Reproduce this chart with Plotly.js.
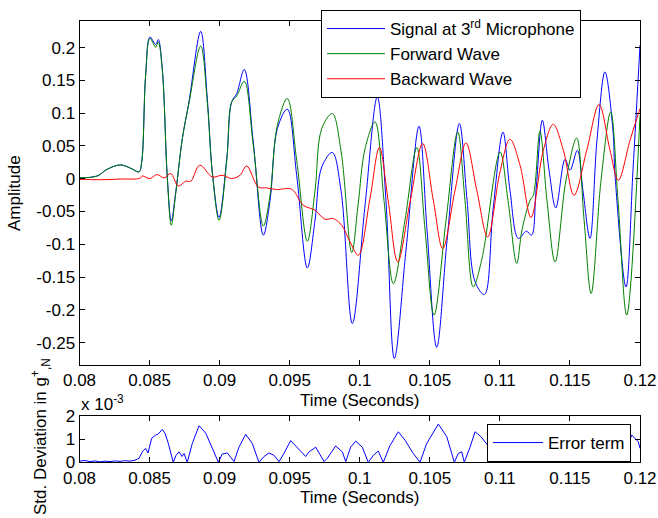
<!DOCTYPE html>
<html>
<head>
<meta charset="utf-8">
<script src="https://cdn.plot.ly/plotly-3.0.1.min.js"></script>
<style>html,body{margin:0;padding:0;background:#fff}#chart{width:658px;height:518px}</style>
</head>
<body>
<div id="chart"></div>
<script>
// ---- Main plot data (time in seconds, amplitude) ----
const signalTime = [0.08000,0.08127,0.08198,0.08294,0.08375,0.08425,0.08444,0.08472,0.08503,0.08544,0.08562,0.08591,0.08627,0.08655,0.08687,0.08734,0.08781,0.08865,0.08912,0.08948,0.08996,0.09051,0.09086,0.09122,0.09176,0.09240,0.09312,0.09360,0.09412,0.09483,0.09550,0.09626,0.09681,0.09729,0.09804,0.09866,0.09947,0.10038,0.10125,0.10187,0.10247,0.10330,0.10423,0.10480,0.10549,0.10623,0.10711,0.10766,0.10823,0.10890,0.10951,0.11022,0.11072,0.11132,0.11189,0.11226,0.11258,0.11303,0.11351,0.11399,0.11465,0.11501,0.11553,0.11593,0.11643,0.11693,0.11750,0.11807,0.11822,0.11900,0.11950,0.12000];
const signalAmp = [0.0012,0.0043,0.0145,0.021,0.015,0.0104,0.0256,0.158,0.216,0.2046,0.2122,0.168,0.0003,-0.0643,-0.020,0.0613,0.117,0.2248,0.1223,0.0104,-0.0591,0.0308,0.117,0.130,0.1665,0.056,-0.0861,-0.033,0.0765,0.106,0.005,-0.136,-0.063,0.018,0.040,-0.0175,-0.2207,-0.040,0.1247,-0.033,-0.274,-0.109,0.080,-0.078,-0.257,-0.094,0.0841,-0.033,-0.157,-0.1765,-0.048,0.0713,-0.0175,-0.091,-0.080,-0.086,-0.0175,0.0892,0.013,-0.0445,0.0297,0.013,0.0434,-0.018,-0.091,0.059,0.163,0.074,0.005,-0.165,0.013,0.2035];

const forwardTime = [0.08000,0.08127,0.08198,0.08294,0.08375,0.08425,0.08444,0.08472,0.08503,0.08544,0.08562,0.08591,0.08627,0.08655,0.08687,0.08734,0.08781,0.08865,0.08912,0.08948,0.08996,0.09051,0.09086,0.09122,0.09176,0.09240,0.09312,0.09360,0.09412,0.09483,0.09550,0.09626,0.09681,0.09729,0.09804,0.09866,0.09943,0.09988,0.10038,0.10109,0.10173,0.10240,0.10323,0.10407,0.10466,0.10530,0.10616,0.10699,0.10751,0.10810,0.10870,0.10894,0.11001,0.11058,0.11120,0.11158,0.11215,0.11239,0.11286,0.11336,0.11394,0.11472,0.11548,0.11601,0.11651,0.11722,0.11791,0.11843,0.11905,0.12000];
const forwardAmp = [0.0012,0.0043,0.0145,0.021,0.015,0.0104,0.0256,0.158,0.214,0.2005,0.2085,0.165,0.0003,-0.0709,-0.022,0.0613,0.115,0.2024,0.1166,0.0084,-0.0633,0.028,0.117,0.126,0.1486,0.051,-0.072,-0.025,0.0816,0.1223,0.028,-0.0953,-0.0175,0.0765,0.0994,0.043,-0.1125,-0.040,0.046,0.0866,-0.033,-0.160,-0.063,0.0476,-0.078,-0.208,-0.063,0.0713,-0.033,-0.165,-0.124,-0.0963,0.0409,-0.033,-0.129,-0.078,-0.033,-0.025,0.0724,-0.033,-0.127,-0.002,0.062,-0.063,-0.175,-0.002,0.1018,-0.033,-0.208,0.0968];

const backwardTime = [0.08000,0.08146,0.08289,0.08432,0.08448,0.08475,0.08503,0.08555,0.08603,0.08651,0.08705,0.08758,0.08794,0.08858,0.08948,0.09019,0.09086,0.09145,0.09193,0.09276,0.09336,0.09407,0.09514,0.09597,0.09681,0.09752,0.09811,0.09871,0.09931,0.09990,0.10073,0.10140,0.10204,0.10271,0.10359,0.10449,0.10525,0.10592,0.10680,0.10758,0.10835,0.10913,0.11001,0.11072,0.11144,0.11222,0.11310,0.11381,0.11453,0.11529,0.11620,0.11708,0.11786,0.11845,0.11929,0.12000];
const backwardAmp = [-0.0008,-0.0015,-0.0005,0.0008,0.0043,0.002,0.0003,0.0064,0.0012,0.0079,-0.011,-0.0038,-0.0038,0.0206,0.0027,0.0053,0.0003,0.0053,0.0195,-0.0125,-0.014,-0.0165,-0.016,-0.0404,-0.048,-0.0617,-0.0607,-0.0709,-0.0963,-0.1166,-0.030,0.0476,-0.0354,-0.1268,-0.0354,0.0537,-0.033,-0.1064,-0.0175,0.0546,-0.0175,-0.0887,0.0104,0.0602,0.0206,-0.0591,0.0434,0.0831,0.0434,-0.0252,0.0434,0.1131,0.0434,-0.0023,0.0587,0.107];

// ---- Lower plot data (std. deviation, units of 1e-3) ----
const errorTime = [0.08000,0.08039,0.08075,0.08111,0.08146,0.08182,0.08218,0.08253,0.08289,0.08325,0.08360,0.08396,0.08425,0.08448,0.08472,0.08489,0.08515,0.08544,0.08560,0.08575,0.08591,0.08610,0.08634,0.08669,0.08689,0.08710,0.08732,0.08746,0.08769,0.08805,0.08853,0.08901,0.08948,0.08991,0.09019,0.09055,0.09103,0.09138,0.09186,0.09233,0.09281,0.09317,0.09352,0.09388,0.09424,0.09459,0.09507,0.09567,0.09614,0.09638,0.09686,0.09745,0.09768,0.09828,0.09876,0.09900,0.09935,0.09971,0.10018,0.10061,0.10097,0.10132,0.10168,0.10216,0.10275,0.10323,0.10382,0.10430,0.10478,0.10561,0.10621,0.10675,0.10703,0.10728,0.10746,0.10787,0.10823,0.10865,0.10930,0.10972,0.10994,0.11015,0.11044,0.11058,0.11108,0.11179,0.11237,0.11286,0.11315,0.11344,0.11401,0.11472,0.11529,0.11551,0.11579,0.11608,0.11658,0.11715,0.11765,0.11793,0.11836,0.11879,0.11915,0.11941,0.11972,0.11988,0.12000];
const errorStd = [0.05,0.08,0.03,0.06,0.02,0.05,0.03,0.06,0.04,0.07,0.05,0.09,0.17,0.45,0.6,0.4,1.03,1.17,1.2,1.3,1.41,1.25,0.81,0.0,0.3,0.45,0.25,0.38,0.0,0.81,1.57,1.25,0.6,0.0,0.36,0.4,0.03,0.65,1.2,0.81,0.0,0.25,0.4,0.3,0.03,0.38,0.93,0.53,0.25,0.45,0.65,0.03,0.17,0.7,0.45,0.03,0.65,0.91,0.65,0.0,0.3,0.48,0.0,0.72,1.31,0.95,0.38,0.0,0.81,1.64,1.1,0.0,0.38,0.45,0.0,0.65,1.31,1.1,0.6,0.0,0.3,0.05,0.3,0.0,0.8,1.2,0.6,0.0,0.4,0.0,0.9,1.2,0.4,0.0,0.4,0.0,0.8,1.1,0.5,0.0,0.4,0.0,0.8,1.17,1.0,0.88,0.6];

// ---- Ticks ----
const timeTicks = [0.08,0.085,0.09,0.095,0.1,0.105,0.11,0.115,0.12];
const timeTickText = ['0.08','0.085','0.09','0.095','0.1','0.105','0.11','0.115','0.12'];
const ampTicks = [-0.25,-0.2,-0.15,-0.1,-0.05,0,0.05,0.1,0.15,0.2];
const ampTickText = ['-0.25','-0.2','-0.15','-0.1','-0.05','0','0.05','0.1','0.15','0.2'];
const stdTicks = [0,1,2];
const stdTickText = ['0','1','2'];

const W = 658, H = 518;
const FONT = 'Liberation Sans, Arial, Helvetica, sans-serif';

const traces = [
  {x: signalTime, y: signalAmp, name: 'Signal at 3<sup>rd</sup> Microphone', type: 'scatter', mode: 'lines',
   line: {color: '#0000ff', width: 1, shape: 'spline', smoothing: 1}, xaxis: 'x', yaxis: 'y', legend: 'legend'},
  {x: forwardTime, y: forwardAmp, name: 'Forward Wave', type: 'scatter', mode: 'lines',
   line: {color: '#008000', width: 1, shape: 'spline', smoothing: 1}, xaxis: 'x', yaxis: 'y', legend: 'legend'},
  {x: backwardTime, y: backwardAmp, name: 'Backward Wave', type: 'scatter', mode: 'lines',
   line: {color: '#ff0000', width: 1, shape: 'spline', smoothing: 1}, xaxis: 'x', yaxis: 'y', legend: 'legend'},
  {x: errorTime, y: errorStd, name: 'Error term', type: 'scatter', mode: 'lines',
   line: {color: '#0000ff', width: 1}, xaxis: 'x2', yaxis: 'y2', legend: 'legend2'}
];

const axBase = {showline: true, mirror: 'ticks', linecolor: '#000', linewidth: 1, ticks: 'inside',
  ticklen: 5, tickcolor: '#000', showgrid: false, zeroline: false, automargin: false,
  tickfont: {family: FONT, size: 17, color: '#000'}};

const xDom = [79.5 / W, 640 / W];
const xMid = (79.5 + 640) / 2 / W;

const layout = {
  width: W, height: H,
  margin: {l: 0, r: 0, t: 0, b: 0},
  paper_bgcolor: '#fff', plot_bgcolor: '#fff',
  font: {family: FONT, size: 17, color: '#000'},
  showlegend: true,
  xaxis: Object.assign({}, axBase, {domain: xDom, range: [0.08, 0.12], anchor: 'y',
    tickmode: 'array', tickvals: timeTicks, ticktext: timeTickText}),
  yaxis: Object.assign({}, axBase, {domain: [1 - 365 / H, 1 - 21 / H], range: [-0.284, 0.2405], anchor: 'x',
    tickmode: 'array', tickvals: ampTicks, ticktext: ampTickText}),
  xaxis2: Object.assign({}, axBase, {domain: xDom, range: [0.08, 0.12], anchor: 'y2',
    tickmode: 'array', tickvals: timeTicks, ticktext: timeTickText}),
  yaxis2: Object.assign({}, axBase, {domain: [1 - 462.3 / H, 1 - 415.7 / H], range: [0, 2], anchor: 'x2',
    tickmode: 'array', tickvals: stdTicks, ticktext: stdTickText}),
  legend: {x: 321 / W, y: 1 - 10 / H, xanchor: 'left', yanchor: 'top', bgcolor: '#fff',
    bordercolor: '#000', borderwidth: 1, itemwidth: 58, font: {family: FONT, size: 17}, tracegroupgap: 0},
  legend2: {x: 631 / W, y: 1 - 424 / H, xanchor: 'right', yanchor: 'top', bgcolor: '#fff',
    bordercolor: '#000', borderwidth: 1, itemwidth: 50, font: {family: FONT, size: 17}},
  annotations: [
    {text: 'Time (Seconds)', xref: 'paper', yref: 'paper', x: xMid, y: 1 - 400 / H,
     xanchor: 'center', yanchor: 'middle', showarrow: false, font: {family: FONT, size: 17}},
    {text: 'Time (Seconds)', xref: 'paper', yref: 'paper', x: xMid, y: 1 - 497 / H,
     xanchor: 'center', yanchor: 'middle', showarrow: false, font: {family: FONT, size: 17}},
    {text: 'Amplitude', xref: 'paper', yref: 'paper', x: 14 / W, y: 1 - 193 / H,
     xanchor: 'center', yanchor: 'middle', textangle: -90, showarrow: false, font: {family: FONT, size: 17}},
    {text: 'x 10<sup>-3</sup>', xref: 'paper', yref: 'paper', x: 79 / W, y: 1 - 403 / H,
     xanchor: 'left', yanchor: 'middle', showarrow: false, font: {family: FONT, size: 17}},
    {text: 'Std. Deviation in g<sup>+</sup><sub>,N</sub>', xref: 'paper', yref: 'paper', x: 40 / W, y: 1 - 437 / H,
     xanchor: 'center', yanchor: 'middle', textangle: -90, showarrow: false, font: {family: FONT, size: 17}}
  ]
};

Plotly.newPlot('chart', traces, layout, {displayModeBar: false, staticPlot: true});
</script>
</body>
</html>
